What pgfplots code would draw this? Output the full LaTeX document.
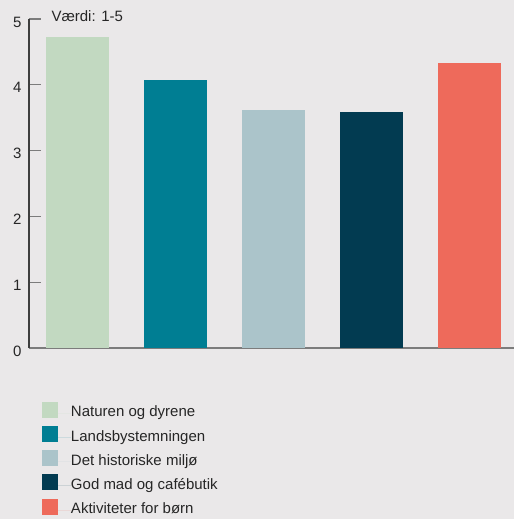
\documentclass[border=0pt]{standalone}
\usepackage{pgfplots}
\pgfplotsset{compat=1.18}
\usepackage{fontspec}
\setmainfont{Liberation Sans}
\definecolor{bg}{HTML}{EAE8E9}
\definecolor{c1}{HTML}{C2D9C1}
\definecolor{c2}{HTML}{007E93}
\definecolor{c3}{HTML}{ABC4CA}
\definecolor{c4}{HTML}{023B51}
\definecolor{c5}{HTML}{EE6A5B}
\definecolor{axdark}{HTML}{3E3E3E}
\definecolor{axgray}{HTML}{7C7C7C}
\pgfplotsset{
  mybar/.style={ybar, bar width=63pt, bar shift=0pt, draw=none, fill=#1,
    legend image code/.code={\fill[#1] (0pt,-4.5pt) rectangle (16pt,11.5pt); \path (16pt,0pt) -- (29pt,0pt);}},
}
\begin{document}
\begin{tikzpicture}[font=\fontsize{15pt}{18pt}\selectfont]
\fill[bg] (-29pt,-171pt) rectangle (485pt,348pt);
\useasboundingbox (-29pt,-171pt) rectangle (485pt,348pt);
\begin{axis}[
  at={(0pt,0pt)}, anchor=south west,
  scale only axis, width=485pt, height=329pt,
  xmin=-0.495, xmax=4.454, ymin=0, ymax=5,
  axis x line=bottom, axis y line=left,
  axis line style={-},
  x axis line style={draw=axgray, line width=1.2pt},
  y axis line style={draw=axdark, line width=1.2pt},
  xtick=\empty, ytick={0,1,2,3,4,5},
  tick align=inside, major tick length=12pt,
  tick style={draw=axgray, line width=1.1pt},
  yticklabel style={xshift=-4pt, yshift=-3pt, text=black!85},
  /pgf/number format/assume math mode=true,
  clip=false,
  legend cell align=left,
  legend style={at={(0.0268,-0.163)}, anchor=north west, draw=none, fill=none,
    inner sep=0pt, outer sep=0pt, row sep=4.5pt,
    nodes={text height=12pt, text depth=4.5pt, inner sep=0pt, text=black!85}},
]
\addplot[mybar=c1] coordinates {(0,4.73)};
\addplot[mybar=c2] coordinates {(1,4.07)};
\addplot[mybar=c3] coordinates {(2,3.62)};
\addplot[mybar=c4] coordinates {(3,3.59)};
\addplot[mybar=c5] coordinates {(4,4.33)};
\legend{Naturen og dyrene, Landsbystemningen, Det historiske miljø, God mad og cafébutik, Aktiviteter for børn}
\node[anchor=base west, text=black!85] at (rel axis cs:0,1) [xshift=19pt, yshift=-2pt] {Værdi: 1-5};
\end{axis}
\end{tikzpicture}
\end{document}
